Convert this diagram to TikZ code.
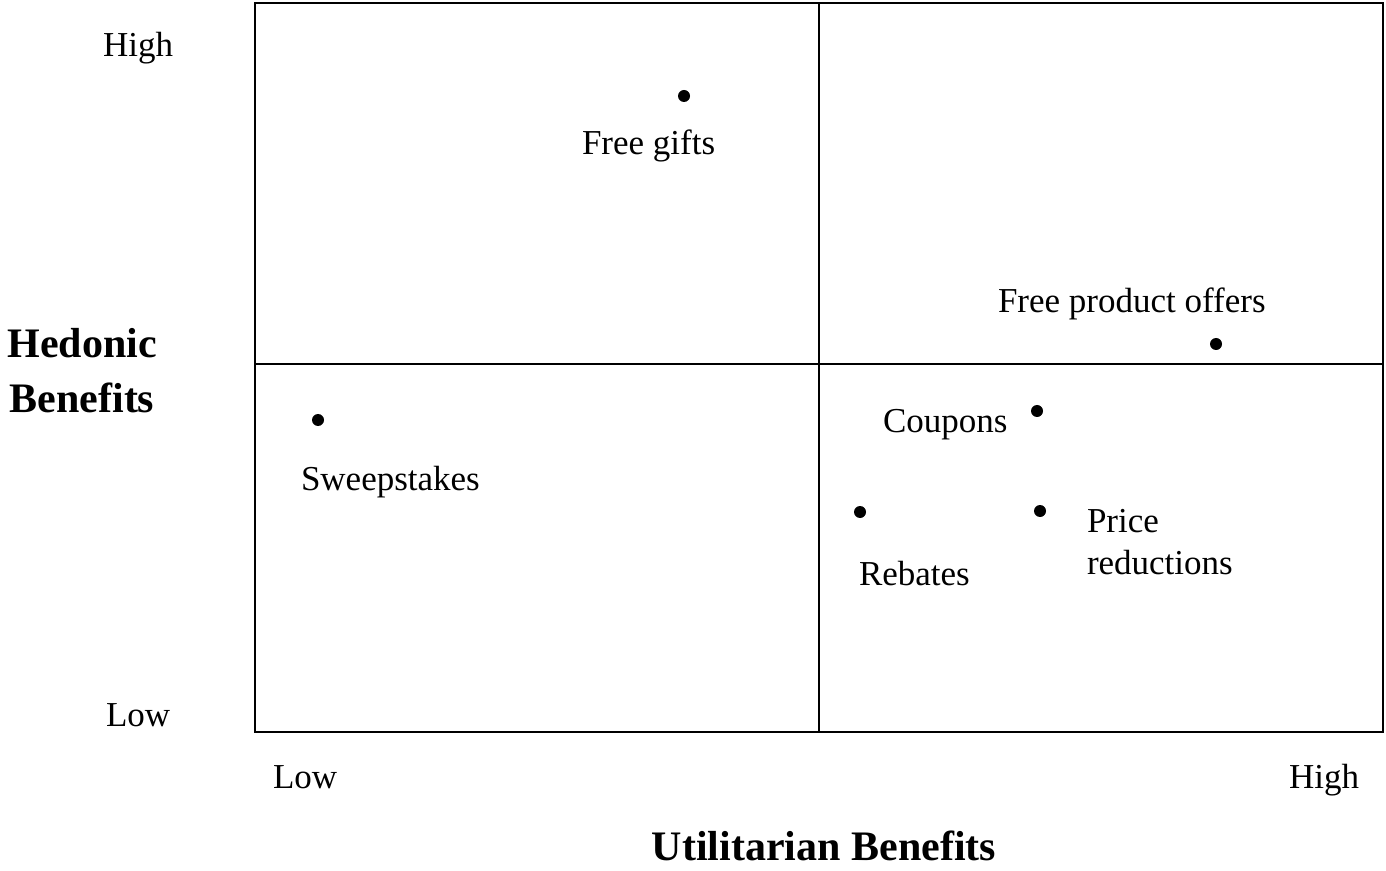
\documentclass[tikz,border=0pt]{standalone}
\usepackage{fontspec}
\setmainfont{Liberation Serif}
\usetikzlibrary{positioning}

\begin{document}
\begin{tikzpicture}[x=0.5pt,y=-0.5pt,line width=1pt,
        dot/.style={circle,fill=black,inner sep=0pt,minimum size=6pt},
        lbl/.style={font=\fontsize{17.5}{21}\selectfont,inner sep=0pt,anchor=base west,align=left},
        axis/.style={font=\bfseries\fontsize{21}{27.5}\selectfont,inner sep=0pt,anchor=base,align=center}]

  \useasboundingbox (0,0) rectangle (1386,871);

  % the four quadrants
  \coordinate (NW) at (255,3);
  \coordinate (SE) at (1383,732);
  \coordinate (Top Mid) at (819,3);
  \coordinate (Bottom Mid) at (819,732);
  \coordinate (Left Mid) at (255,364);
  \coordinate (Right Mid) at (1383,364);
  \draw (NW) rectangle (SE);
  \draw (Top Mid) -- (Bottom Mid);
  \draw (Left Mid) -- (Right Mid);

  % axis ends
  \node[lbl] (High Hedonic) at (102,57) {High};
  \node[lbl] (Low Hedonic) at (105,726) {Low};
  \node[lbl] (Low Utilitarian) at (272,788) {Low};
  \node[lbl] (High Utilitarian) at (1288,788) {High};

  % base of a two-line node sits on its last line
  \node[axis] (Hedonic) at (82,413) {Hedonic\\Benefits};
  \node[axis] (Utilitarian) at (824,860) {Utilitarian Benefits};

  % promotions
  \node[dot] (Free Gifts) at (684,96) {};
  \node[dot] (Free Product) at (1216,344) {};
  \node[dot] (Sweepstakes) at (318,420) {};
  \node[dot] (Coupons) at (1037,411) {};
  \node[dot] (Rebates) at (860,512) {};
  \node[dot] (Price Red) at (1040,511) {};

  \node[lbl] at (581,155) {Free gifts};
  \node[lbl] at (997,313) {Free product offers};
  \node[lbl] at (300,490) {Sweepstakes};
  \node[lbl] at (882,432) {Coupons};
  \node[lbl] at (858,585) {Rebates};
  \node[lbl] at (1086,574) {Price\\reductions};
\end{tikzpicture}
\end{document}
